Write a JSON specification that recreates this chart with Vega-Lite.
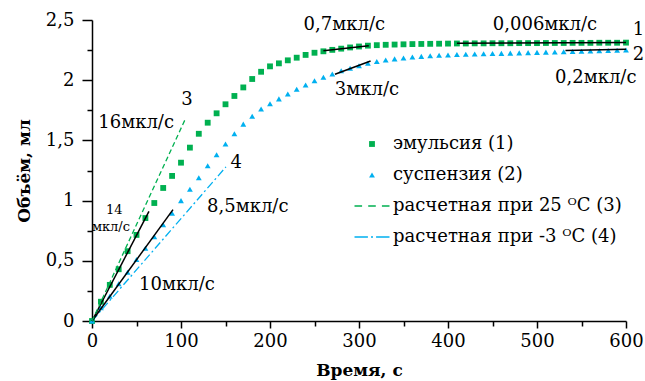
{
  "$schema": "https://vega.github.io/schema/vega-lite/v6.json",
  "width": 534,
  "height": 301,
  "autosize": "none",
  "padding": {"left": 92, "top": 20, "right": 19, "bottom": 60},
  "background": "white",
  "config": {
    "view": {"stroke": null},
    "font": "DejaVu Serif",
    "axis": {
      "grid": false,
      "domainColor": "black",
      "domainWidth": 1.5,
      "tickColor": "black",
      "tickWidth": 1.5,
      "labelFont": "DejaVu Serif",
      "labelFontSize": 18,
      "labelColor": "black",
      "titleFont": "DejaVu Serif",
      "titleFontSize": 17,
      "titleFontWeight": "bold",
      "titleColor": "black",
      "labelFlush": false,
      "labelOverlap": false
    }
  },
  "datasets": {
    "points": [
      {"t": 0, "v": 0, "series": "эмульсия (1)"},
      {"t": 10, "v": 0.16, "series": "эмульсия (1)"},
      {"t": 20, "v": 0.3, "series": "эмульсия (1)"},
      {"t": 30, "v": 0.43, "series": "эмульсия (1)"},
      {"t": 40, "v": 0.58, "series": "эмульсия (1)"},
      {"t": 50, "v": 0.715, "series": "эмульсия (1)"},
      {"t": 60, "v": 0.855, "series": "эмульсия (1)"},
      {"t": 70, "v": 0.98, "series": "эмульсия (1)"},
      {"t": 80, "v": 1.105, "series": "эмульсия (1)"},
      {"t": 90, "v": 1.205, "series": "эмульсия (1)"},
      {"t": 100, "v": 1.315, "series": "эмульсия (1)"},
      {"t": 110, "v": 1.44, "series": "эмульсия (1)"},
      {"t": 120, "v": 1.555, "series": "эмульсия (1)"},
      {"t": 130, "v": 1.647, "series": "эмульсия (1)"},
      {"t": 140, "v": 1.725, "series": "эмульсия (1)"},
      {"t": 150, "v": 1.8, "series": "эмульсия (1)"},
      {"t": 160, "v": 1.869, "series": "эмульсия (1)"},
      {"t": 170, "v": 1.94, "series": "эмульсия (1)"},
      {"t": 180, "v": 2.01, "series": "эмульсия (1)"},
      {"t": 190, "v": 2.07, "series": "эмульсия (1)"},
      {"t": 200, "v": 2.115, "series": "эмульсия (1)"},
      {"t": 210, "v": 2.14, "series": "эмульсия (1)"},
      {"t": 220, "v": 2.165, "series": "эмульсия (1)"},
      {"t": 230, "v": 2.187, "series": "эмульсия (1)"},
      {"t": 240, "v": 2.21, "series": "эмульсия (1)"},
      {"t": 250, "v": 2.228, "series": "эмульсия (1)"},
      {"t": 260, "v": 2.24, "series": "эмульсия (1)"},
      {"t": 270, "v": 2.252, "series": "эмульсия (1)"},
      {"t": 280, "v": 2.262, "series": "эмульсия (1)"},
      {"t": 290, "v": 2.272, "series": "эмульсия (1)"},
      {"t": 300, "v": 2.28, "series": "эмульсия (1)"},
      {"t": 310, "v": 2.287, "series": "эмульсия (1)"},
      {"t": 320, "v": 2.291, "series": "эмульсия (1)"},
      {"t": 330, "v": 2.294, "series": "эмульсия (1)"},
      {"t": 340, "v": 2.296, "series": "эмульсия (1)"},
      {"t": 350, "v": 2.298, "series": "эмульсия (1)"},
      {"t": 360, "v": 2.3, "series": "эмульсия (1)"},
      {"t": 370, "v": 2.301, "series": "эмульсия (1)"},
      {"t": 380, "v": 2.302, "series": "эмульсия (1)"},
      {"t": 390, "v": 2.303, "series": "эмульсия (1)"},
      {"t": 400, "v": 2.304, "series": "эмульсия (1)"},
      {"t": 410, "v": 2.305, "series": "эмульсия (1)"},
      {"t": 420, "v": 2.305, "series": "эмульсия (1)"},
      {"t": 430, "v": 2.306, "series": "эмульсия (1)"},
      {"t": 440, "v": 2.306, "series": "эмульсия (1)"},
      {"t": 450, "v": 2.307, "series": "эмульсия (1)"},
      {"t": 460, "v": 2.307, "series": "эмульсия (1)"},
      {"t": 470, "v": 2.307, "series": "эмульсия (1)"},
      {"t": 480, "v": 2.308, "series": "эмульсия (1)"},
      {"t": 490, "v": 2.308, "series": "эмульсия (1)"},
      {"t": 500, "v": 2.308, "series": "эмульсия (1)"},
      {"t": 510, "v": 2.309, "series": "эмульсия (1)"},
      {"t": 520, "v": 2.309, "series": "эмульсия (1)"},
      {"t": 530, "v": 2.309, "series": "эмульсия (1)"},
      {"t": 540, "v": 2.31, "series": "эмульсия (1)"},
      {"t": 550, "v": 2.31, "series": "эмульсия (1)"},
      {"t": 560, "v": 2.31, "series": "эмульсия (1)"},
      {"t": 570, "v": 2.311, "series": "эмульсия (1)"},
      {"t": 580, "v": 2.311, "series": "эмульсия (1)"},
      {"t": 590, "v": 2.311, "series": "эмульсия (1)"},
      {"t": 600, "v": 2.312, "series": "эмульсия (1)"},
      {"t": 0, "v": 0, "series": "суспензия (2)"},
      {"t": 10, "v": 0.11, "series": "суспензия (2)"},
      {"t": 20, "v": 0.205, "series": "суспензия (2)"},
      {"t": 30, "v": 0.31, "series": "суспензия (2)"},
      {"t": 40, "v": 0.405, "series": "суспензия (2)"},
      {"t": 50, "v": 0.51, "series": "суспензия (2)"},
      {"t": 60, "v": 0.605, "series": "суспензия (2)"},
      {"t": 70, "v": 0.7, "series": "суспензия (2)"},
      {"t": 80, "v": 0.8, "series": "суспензия (2)"},
      {"t": 90, "v": 0.895, "series": "суспензия (2)"},
      {"t": 100, "v": 1.0, "series": "суспензия (2)"},
      {"t": 110, "v": 1.095, "series": "суспензия (2)"},
      {"t": 120, "v": 1.19, "series": "суспензия (2)"},
      {"t": 130, "v": 1.29, "series": "суспензия (2)"},
      {"t": 140, "v": 1.38, "series": "суспензия (2)"},
      {"t": 150, "v": 1.47, "series": "суспензия (2)"},
      {"t": 160, "v": 1.555, "series": "суспензия (2)"},
      {"t": 170, "v": 1.635, "series": "суспензия (2)"},
      {"t": 180, "v": 1.7, "series": "суспензия (2)"},
      {"t": 190, "v": 1.76, "series": "суспензия (2)"},
      {"t": 200, "v": 1.805, "series": "суспензия (2)"},
      {"t": 210, "v": 1.845, "series": "суспензия (2)"},
      {"t": 220, "v": 1.885, "series": "суспензия (2)"},
      {"t": 230, "v": 1.925, "series": "суспензия (2)"},
      {"t": 240, "v": 1.96, "series": "суспензия (2)"},
      {"t": 250, "v": 1.995, "series": "суспензия (2)"},
      {"t": 260, "v": 2.025, "series": "суспензия (2)"},
      {"t": 270, "v": 2.052, "series": "суспензия (2)"},
      {"t": 280, "v": 2.078, "series": "суспензия (2)"},
      {"t": 290, "v": 2.1, "series": "суспензия (2)"},
      {"t": 300, "v": 2.12, "series": "суспензия (2)"},
      {"t": 310, "v": 2.14, "series": "суспензия (2)"},
      {"t": 320, "v": 2.155, "series": "суспензия (2)"},
      {"t": 330, "v": 2.167, "series": "суспензия (2)"},
      {"t": 340, "v": 2.177, "series": "суспензия (2)"},
      {"t": 350, "v": 2.185, "series": "суспензия (2)"},
      {"t": 360, "v": 2.192, "series": "суспензия (2)"},
      {"t": 370, "v": 2.198, "series": "суспензия (2)"},
      {"t": 380, "v": 2.203, "series": "суспензия (2)"},
      {"t": 390, "v": 2.207, "series": "суспензия (2)"},
      {"t": 400, "v": 2.21, "series": "суспензия (2)"},
      {"t": 410, "v": 2.213, "series": "суспензия (2)"},
      {"t": 420, "v": 2.215, "series": "суспензия (2)"},
      {"t": 430, "v": 2.217, "series": "суспензия (2)"},
      {"t": 440, "v": 2.219, "series": "суспензия (2)"},
      {"t": 450, "v": 2.221, "series": "суспензия (2)"},
      {"t": 460, "v": 2.223, "series": "суспензия (2)"},
      {"t": 470, "v": 2.225, "series": "суспензия (2)"},
      {"t": 480, "v": 2.227, "series": "суспензия (2)"},
      {"t": 490, "v": 2.229, "series": "суспензия (2)"},
      {"t": 500, "v": 2.231, "series": "суспензия (2)"},
      {"t": 510, "v": 2.233, "series": "суспензия (2)"},
      {"t": 520, "v": 2.235, "series": "суспензия (2)"},
      {"t": 530, "v": 2.237, "series": "суспензия (2)"},
      {"t": 540, "v": 2.239, "series": "суспензия (2)"},
      {"t": 550, "v": 2.241, "series": "суспензия (2)"},
      {"t": 560, "v": 2.243, "series": "суспензия (2)"},
      {"t": 570, "v": 2.245, "series": "суспензия (2)"},
      {"t": 580, "v": 2.247, "series": "суспензия (2)"},
      {"t": 590, "v": 2.249, "series": "суспензия (2)"},
      {"t": 600, "v": 2.251, "series": "суспензия (2)"}
    ],
    "theory": [
      {"t": 0, "v": 0, "line": "3"},
      {"t": 105, "v": 1.68, "line": "3"},
      {"t": 0, "v": 0, "line": "4"},
      {"t": 150.5, "v": 1.28, "line": "4"}
    ],
    "tangents": [
      {"t": 0, "v": 0, "seg": "a"},
      {"t": 64, "v": 0.91, "seg": "a"},
      {"t": 0, "v": 0, "seg": "b"},
      {"t": 91, "v": 0.925, "seg": "b"},
      {"t": 260, "v": 2.245, "seg": "c"},
      {"t": 311, "v": 2.287, "seg": "c"},
      {"t": 273, "v": 2.05, "seg": "d"},
      {"t": 313, "v": 2.16, "seg": "d"},
      {"t": 410, "v": 2.306, "seg": "e"},
      {"t": 600, "v": 2.314, "seg": "e"},
      {"t": 532, "v": 2.247, "seg": "f"},
      {"t": 600, "v": 2.258, "seg": "f"}
    ],
    "labels": [
      {"t": 106.7, "v": 1.836, "label": "3"},
      {"t": 49.6, "v": 1.642, "label": "16мкл/с"},
      {"t": 162, "v": 1.31, "label": "4"},
      {"t": 175, "v": 0.95, "label": "8,5мкл/с"},
      {"t": 95.5, "v": 0.3, "label": "10мкл/с"},
      {"t": 283.5, "v": 2.458, "label": "0,7мкл/с"},
      {"t": 509, "v": 2.458, "label": "0,006мкл/с"},
      {"t": 614, "v": 2.417, "label": "1"},
      {"t": 614, "v": 2.21, "label": "2"},
      {"t": 309, "v": 1.92, "label": "3мкл/с"},
      {"t": 566, "v": 2.016, "label": "0,2мкл/с"}
    ],
    "smallLabels": [
      {"t": 25, "v": 0.92, "label": "14"},
      {"t": 21.3, "v": 0.78, "label": "мкл/с"}
    ]
  },
  "layer": [
    {
      "layer": [
        {
          "data": {"name": "points"},
          "mark": {"type": "point", "filled": true, "opacity": 1, "size": 34},
          "encoding": {
            "x": {
              "field": "t", "type": "quantitative",
              "scale": {"domain": [0, 600], "nice": false, "zero": false},
              "axis": {"values": [0, 100, 200, 300, 400, 500, 600], "tickSize": 7, "labelPadding": 4, "title": "Время, с", "titlePadding": 12}
            },
            "y": {
              "field": "v", "type": "quantitative",
              "scale": {"domain": [0, 2.5], "nice": false, "zero": false},
              "axis": {"values": [0, 0.5, 1, 1.5, 2, 2.5], "tickSize": 10, "labelPadding": 8, "labelExpr": "replace(format(datum.value, '~g'), '.', ',')", "title": "Объём, мл", "titlePadding": 12}
            },
            "color": {
              "field": "series", "type": "nominal",
              "scale": {
                "domain": ["эмульсия (1)", "суспензия (2)", "расчетная при 25 ᴼC (3)", "расчетная при -3 ᴼC (4)"],
                "range": ["#00B050", "#00B0F0", "#00B050", "#00B0F0"]
              },
              "legend": {
                "title": null, "orient": "none", "legendX": 271, "legendY": 115,
                "labelFont": "DejaVu Serif", "labelFontSize": 18, "labelColor": "black",
                "labelOffset": 12, "rowPadding": 13, "symbolSize": 34, "labelLimit": 400, "symbolOpacity": 1
              }
            },
            "shape": {
              "field": "series", "type": "nominal",
              "scale": {
                "domain": ["эмульсия (1)", "суспензия (2)", "расчетная при 25 ᴼC (3)", "расчетная при -3 ᴼC (4)"],
                "range": ["square", "triangle-up", "M-6,-0.24H-3.4V0.24H-6ZM-1.3,-0.24H1.3V0.24H-1.3ZM3.4,-0.24H6V0.24H3.4Z", "M-6,-0.24H-1.4V0.24H-6ZM-0.35,-0.24H0.35V0.24H-0.35ZM1.4,-0.24H6V0.24H1.4Z"]
              },
              "legend": {
                "title": null, "orient": "none", "legendX": 271, "legendY": 115,
                "labelFont": "DejaVu Serif", "labelFontSize": 18, "labelColor": "black",
                "labelOffset": 12, "rowPadding": 13, "symbolSize": 34, "labelLimit": 400, "symbolOpacity": 1
              }
            }
          }
        },
        {
          "data": {"name": "theory"},
          "transform": [{"filter": "datum.line == '4'"}],
          "mark": {"type": "line", "color": "#00B0F0", "strokeDash": [8, 3, 2, 3], "strokeWidth": 1.3},
          "encoding": {
            "x": {"field": "t", "type": "quantitative"},
            "y": {"field": "v", "type": "quantitative"}
          }
        },
        {
          "data": {"name": "tangents"},
          "mark": {"type": "line", "color": "black", "strokeWidth": 1.5},
          "encoding": {
            "x": {"field": "t", "type": "quantitative"},
            "y": {"field": "v", "type": "quantitative"},
            "detail": {"field": "seg", "type": "nominal"}
          }
        },
        {
          "data": {"name": "labels"},
          "mark": {"type": "text", "font": "DejaVu Serif", "fontSize": 18, "color": "black", "align": "center", "baseline": "middle"},
          "encoding": {
            "x": {"field": "t", "type": "quantitative"},
            "y": {"field": "v", "type": "quantitative"},
            "text": {"field": "label", "type": "nominal"}
          }
        },
        {
          "data": {"name": "smallLabels"},
          "mark": {"type": "text", "font": "DejaVu Serif", "fontSize": 13, "color": "black", "align": "center", "baseline": "middle"},
          "encoding": {
            "x": {"field": "t", "type": "quantitative"},
            "y": {"field": "v", "type": "quantitative"},
            "text": {"field": "label", "type": "nominal"}
          }
        }
      ]
    },
    {
      "data": {"name": "theory"},
      "transform": [{"filter": "datum.line == '3'"}],
      "mark": {"type": "line", "color": "#00B050", "strokeDash": [5, 3], "strokeWidth": 1.3},
      "encoding": {
        "x": {
          "field": "t", "type": "quantitative",
          "axis": {"orient": "bottom", "values": [50, 150, 250, 350, 450, 550], "labels": false, "title": null, "domain": false, "tickSize": 5}
        },
        "y": {
          "field": "v", "type": "quantitative",
          "axis": {"orient": "left", "values": [0.25, 0.75, 1.25, 1.75, 2.25], "labels": false, "title": null, "domain": false, "tickSize": 5}
        }
      }
    }
  ],
  "resolve": {"axis": {"x": "independent", "y": "independent"}}
}
